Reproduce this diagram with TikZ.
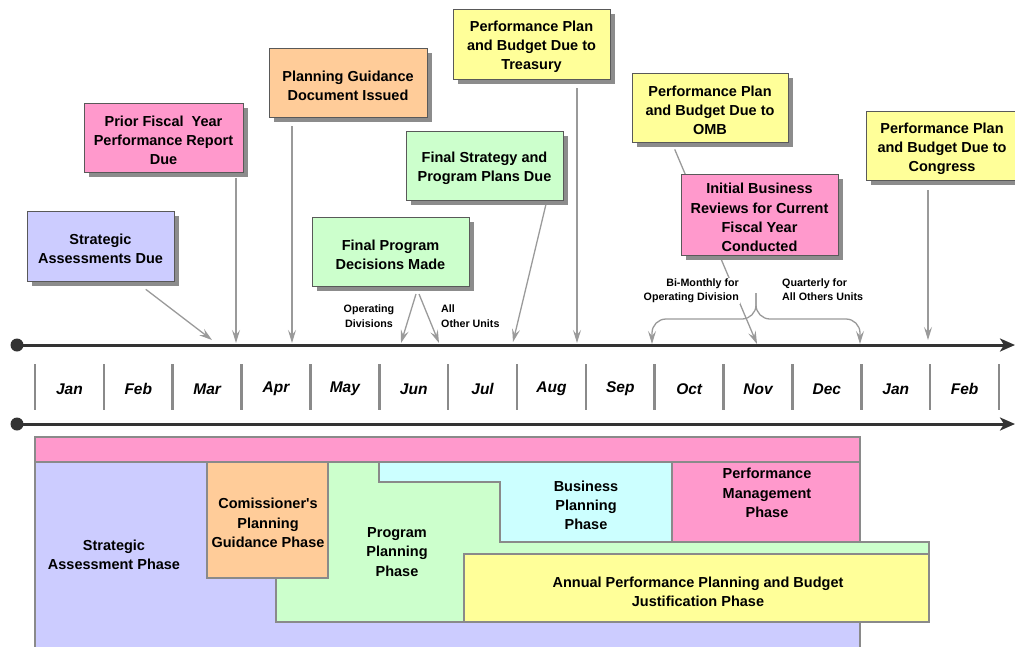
\documentclass[tikz,border=0pt]{standalone}
\usepackage{fontspec}
\setmainfont{Liberation Sans}[Ligatures=TeXOff]
\usetikzlibrary{arrows.meta,shadows,calc}
\definecolor{clav}{HTML}{CCCCFF}
\definecolor{cpink}{HTML}{FF99CC}
\definecolor{corange}{HTML}{FFCC99}
\definecolor{cyellow}{HTML}{FFFF99}
\definecolor{cgreen}{HTML}{CCFFCC}
\definecolor{ccyan}{HTML}{CCFFFF}
\definecolor{cborder}{HTML}{8A8A8A}
\definecolor{cconn}{HTML}{9A9A9A}
\definecolor{caxis}{HTML}{333333}
\begin{document}
\begin{tikzpicture}[x=1pt,y=-1pt,
  callout/.style={draw=black!65, line width=0.8pt, inner sep=0pt,
    general shadow={fill=black!45, shadow xshift=5pt, shadow yshift=-5pt}},
  boxtxt/.style={font=\fontsize{14.5}{19.2}\selectfont\bfseries, align=center, inner sep=0pt, yshift=-3pt},
  conn/.style={draw=cconn, line width=1.3pt, -{Stealth[length=13pt,width=8pt,inset=5pt]}},
  smalllbl/.style={font=\fontsize{10.7}{14.5}\selectfont\bfseries, inner sep=1pt},
  phase/.style={draw=cborder, line width=2pt},
  phasetxt/.style={font=\fontsize{14.5}{19.2}\selectfont\bfseries, align=center},
  monthtxt/.style={font=\fontsize{15.5}{18}\selectfont\bfseries\itshape},
  sep/.style={draw=cborder, line width=2.5pt},
  axisline/.style={draw=caxis, line width=3pt, -{Stealth[length=15pt,width=13pt,inset=4pt]}}]
\useasboundingbox (0,0) rectangle (1015,646);

% ---------- phases ----------
\path[phase, fill=cpink] (35,437) rectangle (860,652);
\path[phase, fill=clav] (35,462) rectangle (860,652);
\path[phase, fill=cpink] (672,462) rectangle (860,542);
\path[phase, fill=ccyan] (379,462) rectangle (672,542);
\path[phase, fill=cgreen] (276,462) -- (379,462) -- (379,482) -- (500,482) -- (500,542)
  -- (929,542) -- (929,622) -- (276,622) -- cycle;
\path[phase, fill=corange] (207,462) rectangle (328,578);
\path[phase, fill=cyellow] (464,554) rectangle (929,622);

\node[phasetxt] (pstrat) at (114,555) {Strategic\\Assessment Phase};
\node[phasetxt] (pcomm) at (268,523) {Comissioner's\\Planning\\Guidance Phase};
\node[phasetxt] (pprog) at (397,552) {Program\\Planning\\Phase};
\node[phasetxt] (pbus) at (586,505.5) {Business\\Planning\\Phase};
\node[phasetxt] (pperf) at (767,493) {Performance\\Management\\Phase};
\node[phasetxt] (pann) at (698,592) {Annual Performance Planning and Budget\\Justification Phase};

% ---------- axes ----------
\fill[caxis] (17,345) circle (6.5);
\draw[axisline] (17,345) -- (1015,345);
\fill[caxis] (17,424) circle (6.5);
\draw[axisline] (17,424) -- (1015,424);

\foreach \k in {0,...,14} {
  \draw[sep] ({35+68.86*\k},364) -- ({35+68.86*\k},410);
}
\foreach \m [count=\i from 0] in {Jan,Feb,Mar,Apr,May,Jun,Jul,Aug,Sep,Oct,Nov,Dec,Jan,Feb} {
  \node[monthtxt] (m\i) at ({35+68.86*\i+34.43},389) {\m};
}

% ---------- axis points ----------
\coordinate (tMar) at (212,340);
\coordinate (tPrior) at (236,343);
\coordinate (tApr) at (292,343);
\coordinate (tOpDiv) at (401,343);
\coordinate (tAll) at (439,343);
\coordinate (tStrat) at (513,342);
\coordinate (tTre) at (577,343);
\coordinate (tOct) at (652,344);
\coordinate (tNov) at (757,344);
\coordinate (tDec) at (860,344);
\coordinate (tCon) at (928,340);
\coordinate (fpdL) at (416,294);
\coordinate (fpdR) at (419,294);
\coordinate (brace) at (756,293);

% ---------- connectors (behind boxes) ----------
\draw[conn, shorten <=8pt] (671.6,142) -- (tNov);

% ---------- callouts ----------
\node[callout, fill=clav, minimum width=147, minimum height=70,
  label={[boxtxt]center:Strategic\\Assessments Due}] (sad) at (100.5,246) {};
\node[callout, fill=cpink, minimum width=159, minimum height=69,
  label={[boxtxt]center:Prior Fiscal\ \ Year\\Performance Report\\Due}] (pfy) at (163.5,137.5) {};
\node[callout, fill=corange, minimum width=158, minimum height=69,
  label={[boxtxt]center:Planning Guidance\\Document Issued}] (pgd) at (348,82.5) {};
\node[callout, fill=cyellow, minimum width=157, minimum height=70,
  label={[boxtxt]center:Performance Plan\\and Budget Due to\\Treasury}] (tre) at (531.5,44) {};
\node[callout, fill=cgreen, minimum width=157, minimum height=69,
  label={[boxtxt]center:Final Strategy and\\Program Plans Due}] (fsp) at (484.5,165.5) {};
\node[callout, fill=cgreen, minimum width=157, minimum height=69,
  label={[boxtxt]center:Final Program\\Decisions Made}] (fpd) at (390.5,251.5) {};
\node[callout, fill=cyellow, minimum width=156, minimum height=69,
  label={[boxtxt]center:Performance Plan\\and Budget Due to\\OMB}] (omb) at (710,107.5) {};
\node[callout, fill=cpink, minimum width=157, minimum height=81,
  label={[boxtxt]center:Initial Business\\Reviews for Current\\Fiscal Year\\Conducted}] (ibr) at (759.5,214.5) {};
\node[callout, fill=cyellow, minimum width=152, minimum height=69,
  label={[boxtxt]center:Performance Plan\\and Budget Due to\\Congress}] (con) at (942,145.5) {};

% ---------- labels ----------
\node[smalllbl, align=center] (lopdiv) at (369,316) {Operating\\Divisions};
\node[smalllbl, align=left, anchor=west] (lall) at (440,316) {All\\Other Units};
\node[smalllbl, align=right, anchor=east, fill=white] (lbimon) at (740,291) {Bi-Monthly for\\Operating Division};
\node[smalllbl, align=left, anchor=west] (lquart) at (781,289.5) {Quarterly for\\All Others Units};

% ---------- connectors ----------
\draw[conn, shorten <=13pt] ($(sad.south east)+(-39,0)$) -- (tMar);
\draw[conn, shorten <=6pt] (pfy.south -| tPrior) -- (tPrior);
\draw[conn, shorten <=9pt] (pgd.south -| tApr) -- (tApr);
\draw[conn, shorten <=9pt] (tre.south -| tTre) -- (tTre);
\draw[conn, shorten <=5pt] (547,200) -- (tStrat);
\draw[conn] (fpdL) -- (tOpDiv);
\draw[conn] (fpdR) -- (tAll);
\draw[conn, shorten <=10pt] (con.south -| tCon) -- (tCon);
\draw[conn, rounded corners=14pt] (brace) -- (756,319) -- (652,319) -- (tOct);
\draw[conn, rounded corners=14pt] (brace) -- (756,319) -- (860,319) -- (tDec);
\end{tikzpicture}
\end{document}
